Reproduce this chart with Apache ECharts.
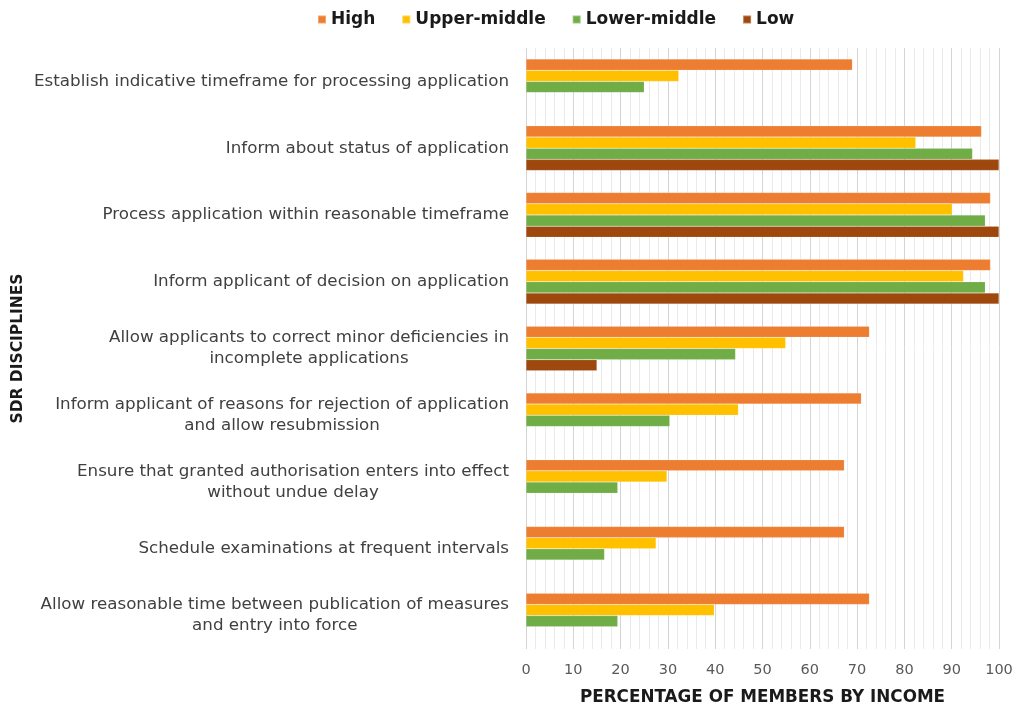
<!DOCTYPE html>
<html>
<head>
<meta charset="utf-8">
<script src="https://cdn.jsdelivr.net/npm/echarts@6/dist/echarts.min.js"></script>
<style>html,body{margin:0;padding:0;background:#fff;}#chart{width:1019px;height:711px;}</style>
</head>
<body>
<div id="chart"></div>
<script>
const categories = [
  "Establish indicative timeframe for processing application",
  "Inform about status of application",
  "Process application within reasonable timeframe",
  "Inform applicant of decision on application",
  "Allow applicants to correct minor deficiencies in\nincomplete applications",
  "Inform applicant of reasons for rejection of application\nand allow resubmission",
  "Ensure that granted authorisation enters into effect\nwithout undue delay",
  "Schedule examinations at frequent intervals",
  "Allow reasonable time between publication of measures\nand entry into force"
];
const seriesNames = ["High", "Upper-middle", "Lower-middle", "Low"];
const high = [69.0, 96.3, 98.2, 98.2, 72.6, 70.9, 67.3, 67.3, 72.6];
const upperMiddle = [32.3, 82.4, 90.1, 92.5, 54.9, 44.9, 29.8, 27.5, 39.8];
const lowerMiddle = [25.0, 94.4, 97.1, 97.1, 44.3, 30.4, 19.4, 16.6, 19.4];
const low = [null, 100, 100, 100, 15.0, null, null, null, null];
const colors = ["#ED7D31", "#FFC000", "#70AD47", "#9E480E"];
const xTicks = [0, 10, 20, 30, 40, 50, 60, 70, 80, 90, 100];

const FONT = "DejaVu Sans";
const chart = echarts.init(document.getElementById('chart'), null, {renderer: 'canvas'});
const dataSets = [high, upperMiddle, lowerMiddle, low];

chart.setOption({
  animation: false,
  textStyle: {fontFamily: FONT},
  legend: {
    data: seriesNames,
    left: 312, top: 6,
    icon: 'rect', itemWidth: 8, itemHeight: 8, itemGap: 26,
    textStyle: {fontFamily: FONT, fontWeight: 'bold', fontSize: 17, color: '#1a1a1a'}
  },
  grid: {left: 526, right: 20, top: 48, bottom: 60.5, containLabel: false},
  xAxis: {
    type: 'value', min: xTicks[0], max: xTicks[xTicks.length - 1], interval: 10,
    name: 'PERCENTAGE OF MEMBERS BY INCOME', nameLocation: 'middle', nameGap: 40,
    nameTextStyle: {fontFamily: FONT, fontWeight: 'bold', fontSize: 16.8, color: '#1a1a1a'},
    axisLine: {show: false}, axisTick: {show: false},
    axisLabel: {margin: 14, fontSize: 14.5, color: '#595959', fontFamily: FONT},
    splitLine: {show: true, lineStyle: {color: '#D4D4D4', width: 1}},
    minorTick: {show: false, splitNumber: 5},
    minorSplitLine: {show: true, lineStyle: {color: '#EBEBEB', width: 1}}
  },
  yAxis: {
    type: 'category', data: categories, inverse: true,
    name: 'SDR DISCIPLINES', nameLocation: 'middle', nameGap: 500, nameRotate: 90,
    nameTextStyle: {fontFamily: FONT, fontWeight: 'bold', fontSize: 15.5, color: '#1a1a1a'},
    axisLine: {show: false}, axisTick: {show: false},
    axisLabel: {
      margin: 17, fontSize: 16.7, color: '#404040', fontFamily: FONT, align: 'right',
      formatter: function (v) { return v.split('\n').map(s => '{c|' + s + '}').join('\n'); },
      rich: {c: {align: 'center', fontSize: 16.7, color: '#404040', fontFamily: FONT, lineHeight: 21}}
    },
    splitLine: {show: false}
  },
  series: seriesNames.map((n, i) => ({
    name: n, type: 'bar', data: dataSets[i],
    barGap: '0%', barCategoryGap: '33%',
    itemStyle: {color: colors[i], borderColor: 'rgba(255,255,255,0.3)', borderWidth: 0.5}
  }))
});
</script>
</body>
</html>
